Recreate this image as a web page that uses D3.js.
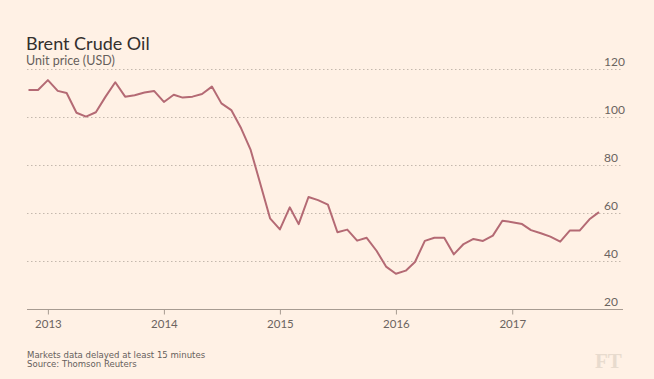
<!DOCTYPE html>
<html>
<head>
<meta charset="utf-8">
<script src="https://cdn.jsdelivr.net/npm/d3@7"></script>
<style>
  html, body { margin: 0; padding: 0; background: #fff1e5; }
  svg { display: block; }
</style>
</head>
<body>
<svg id="chart" width="654" height="379"></svg>
<script>
// ---- Data (monthly Brent crude, USD) ----
const startMonth = "2012-11";
const prices = [
  111.4, 111.4,
  115.5, 111.0, 110.1, 101.9, 100.3, 102.1, 108.5, 114.6, 108.6, 109.2, 110.3, 111.0,
  106.4, 109.4, 108.2, 108.6, 109.7, 112.8, 105.8, 103.0, 95.4, 86.4, 72.0, 57.9,
  53.3, 62.5, 55.5, 66.8, 65.5, 63.6, 52.1, 53.2, 48.6, 49.8, 44.4, 37.8,
  34.8, 36.1, 39.7, 48.5, 49.8, 49.8, 42.9, 47.2, 49.3, 48.5, 50.7, 56.9,
  56.3, 55.5, 53.0, 51.7, 50.3, 48.2, 52.8, 52.8, 57.5, 60.5
];
const yTicks = [20, 40, 60, 80, 100, 120];
const xTickYears = ["2013", "2014", "2015", "2016", "2017"];
const title = "Brent Crude Oil";
const subtitle = "Unit price (USD)";
const footerLines = ["Markets data delayed at least 15 minutes", "Source: Thomson Reuters"];

// ---- Build dated series ----
const parseMonth = d3.timeParse("%Y-%m");
const start = parseMonth(startMonth);
const series = prices.map((v, i) => ({ date: d3.timeMonth.offset(start, i), value: v }));

const svg = d3.select("#chart");
const W = 654, H = 379;

const plotLeft = 27, plotRight = 623;
const x = d3.scaleTime()
  .domain([series[0].date, series[series.length - 1].date])
  .range([28.5, 599]);
const y = d3.scaleLinear().domain([20, 120]).range([309.3, 69.3]);

// background
svg.append("rect").attr("width", W).attr("height", H).attr("fill", "#fff1e5");

// title
svg.append("text").attr("x", 26).attr("y", 49.5)
  .attr("font-family", "Lato, 'Open Sans', sans-serif")
  .attr("font-size", 18).attr("fill", "#33302e").text(title);
svg.append("text").attr("x", 26).attr("y", 65)
  .attr("font-family", "Lato, 'Open Sans', sans-serif")
  .attr("font-size", 12.5).attr("fill", "#66605c").text(subtitle);

// gridlines
svg.append("g").selectAll("line")
  .data(yTicks.filter(t => t !== 20))
  .join("line")
  .attr("x1", plotLeft).attr("x2", 622)
  .attr("y1", d => Math.round(y(d)) + 0.5).attr("y2", d => Math.round(y(d)) + 0.5)
  .attr("stroke", "#c4b8ad").attr("stroke-width", 1)
  .attr("stroke-dasharray", "1.5,2.5");

// baseline
svg.append("line")
  .attr("x1", plotLeft).attr("x2", plotRight)
  .attr("y1", Math.round(y(20)) + 0.5).attr("y2", Math.round(y(20)) + 0.5)
  .attr("stroke", "#a79b91").attr("stroke-width", 1);

// y labels
svg.append("g").selectAll("text")
  .data(yTicks)
  .join("text")
  .attr("x", 604).attr("y", d => y(d) - 3)
  .attr("font-family", "Lato, 'Open Sans', sans-serif")
  .attr("font-size", 12).attr("fill", "#6b645f")
  .text(d => d);

// x axis
const parseYear = d3.timeParse("%Y");
const xAxis = d3.axisBottom(x)
  .tickValues(xTickYears.map(parseYear))
  .tickFormat(d3.timeFormat("%Y"))
  .tickSize(5).tickPadding(5);
const gx = svg.append("g")
  .attr("transform", `translate(0,${Math.round(y(20)) + 0.5})`)
  .call(xAxis);
gx.select(".domain").remove();
gx.selectAll(".tick line").attr("stroke", "#a79b91");
gx.selectAll(".tick text")
  .attr("font-family", "Lato, 'Open Sans', sans-serif")
  .attr("font-size", 11.5).attr("fill", "#6b645f");

// line
const line = d3.line().x(d => x(d.date)).y(d => y(d.value));
svg.append("path").datum(series)
  .attr("d", line)
  .attr("fill", "none")
  .attr("stroke", "#b46a74")
  .attr("stroke-width", 2)
  .attr("stroke-linejoin", "round");

// footer
svg.append("g").selectAll("text")
  .data(footerLines)
  .join("text")
  .attr("x", 27).attr("y", (d, i) => 357.5 + i * 9.5)
  .attr("font-family", "'Liberation Sans Narrow', 'DejaVu Sans Condensed', sans-serif")
  .attr("font-size", 9.5).attr("fill", "#66605c")
  .text(d => d);

// FT logo
svg.append("text").attr("x", 595).attr("y", 367.5)
  .attr("font-family", "'Liberation Serif', 'DejaVu Serif', serif")
  .attr("font-weight", "bold")
  .attr("font-size", 21).attr("fill", "#e8dbce")
  .text("FT");
</script>
</body>
</html>
